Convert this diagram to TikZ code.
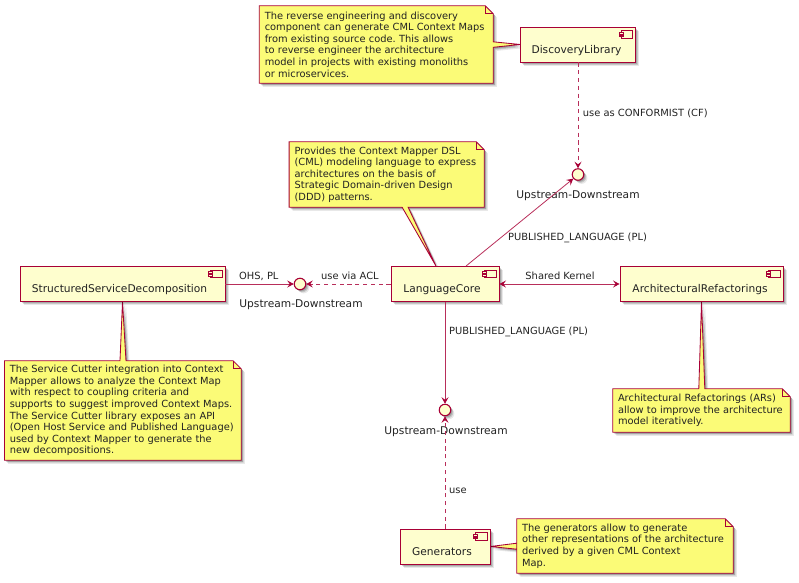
\documentclass[tikz,border=0pt]{standalone}
\usepackage{fontspec}
\setmainfont{DejaVu Sans}
\usetikzlibrary{arrows.meta,calc,shadows,backgrounds}
\frenchspacing
\definecolor{pumlred}{HTML}{A80036}
\definecolor{pumlbox}{HTML}{FEFECE}
\definecolor{pumlnote}{HTML}{FBFB77}
\definecolor{pumltext}{HTML}{222222}
\newcommand{\compsize}{\fontsize{10.65}{12}\selectfont}
\newcommand{\notesize}{\fontsize{9.85}{11.55}\selectfont}
\newcommand{\edgesize}{\fontsize{9.9}{11.55}\selectfont}
\tikzset{
  softshade/.style={
    general shadow={shadow xshift=.8pt,shadow yshift=-.8pt,fill=black,opacity=.14},
    general shadow={shadow xshift=1.6pt,shadow yshift=-1.6pt,fill=black,opacity=.16},
    general shadow={shadow xshift=2.5pt,shadow yshift=-2.5pt,fill=black,opacity=.14},
    general shadow={shadow xshift=3.6pt,shadow yshift=-3.6pt,fill=black,opacity=.09}},
  compbox/.style={draw=pumlred,fill=pumlbox,line width=.95pt,inner sep=0pt,text=pumltext,font=\compsize,
    text height=26pt,text depth=9pt,softshade},
  ifacecirc/.style={circle,draw=pumlred,fill=pumlbox,line width=1.1pt,minimum size=11.5pt,inner sep=0pt,softshade},
  ifacelabel/.style={font=\compsize,text=pumltext,inner sep=0pt},
  notetext/.style={inner sep=0pt,font=\notesize,text=pumltext,align=left},
  notefill/.style={draw=pumlred,fill=pumlnote,line width=.85pt,line join=miter,softshade},
  edgetext/.style={font=\edgesize,text=pumltext,inner sep=0pt,anchor=west},
  link/.style={draw=pumlred!82!white,line width=.8pt,-{Stealth[length=6.5pt,width=7pt,inset=2.6pt,pumlred]}},
  dashlink/.style={link,dash pattern=on 4.2pt off 3.6pt},
  iconpart/.style={draw=pumlred,fill=pumlbox,line width=.9pt},
}
\newcommand{\notebody}[5]{%
  \begin{scope}[on background layer]
    \path[notefill] (#1.north west) #2 -- ($(#1.north east)+(-8,0)$) -- ($(#1.north east)+(0,8)$) #3
      -- (#1.south east) #4 -- (#1.south west) #5 -- cycle;
    \draw[draw=pumlred,line width=.8pt] ($(#1.north east)+(-8,0)$) -- ($(#1.north east)+(-8,8)$) -- ($(#1.north east)+(0,8)$);
  \end{scope}}
\newcommand{\compicon}[1]{%
  \path[iconpart] ($(#1.north east)+(-15,4)$) rectangle ($(#1.north east)+(-3.5,11.5)$);
  \path[iconpart] ($(#1.north east)+(-17,5.8)$) rectangle ($(#1.north east)+(-12.8,7.6)$);
  \path[iconpart] ($(#1.north east)+(-17,8.6)$) rectangle ($(#1.north east)+(-12.8,10.4)$);}
\begin{document}
\begin{tikzpicture}[x=1pt,y=-1pt]
\useasboundingbox (0,0) rectangle (799,582);
\node[compbox,minimum width=115pt] (disc) at (578,44.5) {DiscoveryLibrary\kern3pt};
\node[compbox,minimum width=108pt] (core) at (445,284) {LanguageCore\kern6pt};
\node[compbox,minimum width=205pt] (ssd) at (122.5,284) {StructuredServiceDecomposition\kern6pt};
\node[compbox,minimum width=163pt] (arf) at (701.5,284) {ArchitecturalRefactorings\kern3pt};
\node[compbox,minimum width=90pt] (gen) at (445,546.5) {Generators\kern6pt};
\foreach \n in {disc,core,ssd,arf,gen}{\compicon{\n}}
\node[ifacecirc] (ifdisc) at (578,174.5) {};
\node[ifacecirc] (ifssd) at (300,284) {};
\node[ifacecirc] (ifgen) at (445,410) {};
\node[ifacelabel] (ifdisclabel) at (578,195.5) {Upstream-Downstream};
\node[ifacelabel] (ifssdlabel) at (301,304.5) {Upstream-Downstream};
\node[ifacelabel] (ifgenlabel) at (446,431.5) {Upstream-Downstream};
\node[notetext,minimum width=233.5pt,minimum height=77pt,text width=223pt] (ndisc) at (376.25,44.5)
 {The reverse engineering and discovery\\component can generate CML Context Maps\\from existing source code. This allows\\to reverse engineer the architecture\\model in projects with existing monoliths\\or microservices.};
\node[notetext,minimum width=194.7pt,minimum height=65pt,text width=184pt] (ncore) at (386.65,174.5)
 {Provides the Context Mapper DSL\\(CML) modeling language to express\\architectures on the basis of\\Strategic Domain-driven Design\\(DDD) patterns.};
\node[notetext,minimum width=236.3pt,minimum height=99pt,text width=226pt] (nssd) at (122.85,410.5)
 {The Service Cutter integration into Context\\Mapper allows to analyze the Context Map\\with respect to coupling criteria and\\supports to suggest improved Context Maps.\\The Service Cutter library exposes an API\\(Open Host Service and Published Language)\\used by Context Mapper to generate the\\new decompositions.};
\node[notetext,minimum width=177pt,minimum height=43pt,text width=167pt] (narf) at (701.5,410.5)
 {Architectural Refactorings (ARs)\\allow to improve the architecture\\model iteratively.};
\node[notetext,minimum width=216pt,minimum height=54pt,text width=206pt] (ngen) at (625,546)
 {The generators allow to generate\\other representations of the architecture\\derived by a given CML Context\\Map.};
\notebody{ndisc}{}{-- ($(ndisc.north east)+(0,36)$) -- (disc.west |- 0,44.5) -- ($(ndisc.north east)+(0,41.5)$)}{}{}
\notebody{ncore}{}{}{-- ($(ncore.south west)+(119,0)$) -- ($(core.north)+(-9,0)$) -- ($(ncore.south west)+(113,0)$)}{}
\notebody{nssd}{-- ($(nssd.north west)+(115.5,0)$) -- (ssd.south) -- ($(nssd.north west)+(121.5,0)$)}{}{}{}
\notebody{narf}{-- ($(narf.north west)+(86,0)$) -- (arf.south) -- ($(narf.north west)+(92,0)$)}{}{}{}
\notebody{ngen}{}{}{}{-- ($(ngen.south west)+(0,-30)$) -- (gen.east) -- ($(ngen.south west)+(0,-24)$)}
\draw[dashlink] (disc.south) -- (ifdisc.north);
\draw[link] ($(core.north)+(21,0)$) -- (ifdisc.221);
\draw[link] (ssd.east) -- (ifssd.west);
\draw[dashlink] (core.west) -- (ifssd.east);
\draw[link,{Stealth[length=6.5pt,width=7pt,inset=2.6pt,pumlred]}-{Stealth[length=6.5pt,width=7pt,inset=2.6pt,pumlred]}] (core.east) -- (arf.west);
\draw[link] (core.south) -- (ifgen.north);
\draw[dashlink] (gen.north) -- (ifgen.south);
\node[edgetext] (l1) at (582.7,113.5) {use as CONFORMIST (CF)};
\node[edgetext] (l2) at (508,237.5) {PUBLISHED\_LANGUAGE (PL)};
\node[edgetext] (l3) at (239,276) {OHS, PL};
\node[edgetext] (l4) at (321,276) {use via ACL};
\node[edgetext,anchor=center] (l5) at (560,276) {Shared Kernel};
\node[edgetext] (l6) at (449,332) {PUBLISHED\_LANGUAGE (PL)};
\node[edgetext] (l7) at (449,491) {use};
\end{tikzpicture}
\end{document}
